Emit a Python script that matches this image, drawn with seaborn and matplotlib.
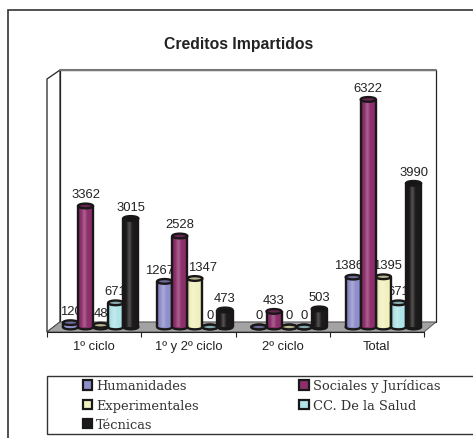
"""
Creditos Impartidos: cylinder style column chart.
"""

import matplotlib

matplotlib.use("Agg")

import matplotlib.pyplot as plt
import numpy as np
import pandas as pd
import seaborn as sns
from matplotlib.colors import LinearSegmentedColormap, to_rgb
from matplotlib.patches import Ellipse, Patch, Polygon, Rectangle


CATEGORIES = ["1º ciclo", "1º y 2º ciclo", "2º ciclo", "Total"]
SERIES = ["Humanidades", "Sociales y Jurídicas", "Experimentales", "CC. De la Salud", "Técnicas"]

HUMANIDADES = [120, 1267, 0, 1386]
SOCIALES = [3362, 2528, 433, 6322]
EXPERIMENTALES = [48, 1347, 0, 1395]
SALUD = [671, 0, 0, 671]
TECNICAS = [3015, 473, 503, 3990]

COLORS = ["#8f8fcb", "#8e2f6c", "#f1f1bf", "#b0e4e8", "#1d1a1b"]
# magenta and black columns overlap their neighbours
STACK = [0, 2, 1, 1, 2]
# sideways shift in points of the labels that were moved off their column: (series, category)
LABEL_NUDGE = {(0, 1): -3.5, (2, 1): 5.5, (0, 3): -3.5, (2, 3): 3}
EDGE = "#1a1718"
W, H = 473, 439


def shade(color):
    """Left to right shading that makes a flat bar look round."""
    base = np.array(to_rgb(color))
    dark = base * 0.85
    light = base + (1 - base) * 0.25
    return LinearSegmentedColormap.from_list("cyl", [dark, base, light, base, base, dark])


def px_axes(fig, x0, y0, x1, y1):
    """Axes placed from pixel coordinates, y measured from the top."""
    return fig.add_axes([x0 / W, 1 - y1 / H, (x1 - x0) / W, (y1 - y0) / H])


def draw_background(fig):
    bg = px_axes(fig, 0, 0, W, H)
    bg.set_xlim(0, W)
    bg.set_ylim(H, 0)
    bg.axis("off")
    # outer frame runs off the right and bottom of the picture
    bg.add_patch(Rectangle((8, 10.5), W, H, fc="white", ec="#333333", lw=1.2))
    # walls and floor
    bg.add_patch(Rectangle((60, 71), 376, 252, fc="white", ec="#222222", lw=0.9))
    bg.plot([60, 436], [71, 71], color="#777777", lw=1.5)
    bg.add_patch(Polygon([(47, 80), (60, 71), (60, 323), (47, 333)], fc="white", ec="#222222", lw=0.9))
    bg.add_patch(Polygon([(47, 333), (60, 323), (436, 323), (424, 333)], fc="#a3a3a3", ec="#555555", lw=0.7))
    # legend box
    bg.add_patch(Rectangle((47, 377), W, 58, fc="white", ec="#333333", lw=1.0))
    return bg


def draw_cylinders(ax):
    """Turn the seaborn bars into shaded cylinders."""
    ellipse_h = 130
    lw = 1.7
    for s, (color, rank, container) in enumerate(zip(COLORS, STACK, ax.containers)):
        z = 3 + rank
        for c, bar in enumerate(container):
            x, w, h = bar.get_x(), bar.get_width(), bar.get_height()
            bar.set_facecolor("none")
            bar.set_edgecolor("none")
            ax.add_patch(Ellipse((x + w / 2, 0), w, ellipse_h, fc=color, ec=EDGE, lw=lw, zorder=z, clip_on=False))
            if h > 0:
                grad = np.linspace(0, 1, 64)[None, :]
                ax.imshow(grad, cmap=shade(color), extent=(x, x + w, 0, h), aspect="auto", zorder=z + 0.1)
                ax.vlines([x, x + w], 0, h, color=EDGE, lw=lw, zorder=z + 0.2)
            top = np.array(to_rgb(color)) * 0.75
            ax.add_patch(Ellipse((x + w / 2, h), w, ellipse_h, fc=top, ec=EDGE, lw=lw, zorder=z + 0.3, clip_on=False))
            # labels sit behind every bar, as in the original
            ax.annotate(f"{int(h)}", (x + w / 2, h), xytext=(LABEL_NUDGE.get((s, c), 0), 8.5),
                        textcoords="offset points", ha="center", va="center", fontsize=9.4,
                        color="#222222", zorder=2, annotation_clip=False)


def main():
    sns.set_theme(style="white")
    plt.rcParams["font.family"] = ["Liberation Sans", "DejaVu Sans"]

    df = pd.DataFrame({
        "categoria": CATEGORIES * 5,
        "serie": np.repeat(SERIES, 4),
        "creditos": HUMANIDADES + SOCIALES + EXPERIMENTALES + SALUD + TECNICAS,
    })

    fig = plt.figure(figsize=(W / 100, H / 100), dpi=100, facecolor="white")
    draw_background(fig)

    ax = px_axes(fig, 53.5, 76, 430.5, 328)
    ax.patch.set_alpha(0)
    sns.barplot(data=df, x="categoria", y="creditos", hue="serie", hue_order=SERIES, order=CATEGORIES,
                palette=COLORS, saturation=1, width=0.8, gap=0, legend=False, ax=ax)
    draw_cylinders(ax)
    ax.set_xlim(-0.5, 3.5)
    ax.set_ylim(0, 7000)
    ax.axis("off")

    # category axis on the front edge of the floor
    front = px_axes(fig, 47, 300, 424, 333)
    front.patch.set_alpha(0)
    front.set_xlim(0, len(CATEGORIES))
    front.set_xticks(np.arange(len(CATEGORIES) + 1))
    front.set_xticklabels([])
    front.set_xticks(np.arange(len(CATEGORIES)) + 0.5, CATEGORIES, minor=True)
    front.tick_params(axis="x", which="major", length=3.5, width=0.8, color="#222222", bottom=True)
    front.tick_params(axis="x", which="minor", length=0, pad=6, labelsize=9.4, labelcolor="#222222")
    front.set_yticks([])
    for side in ["left", "right", "top"]:
        front.spines[side].set_visible(False)
    front.spines["bottom"].set_color("#222222")
    front.spines["bottom"].set_linewidth(0.8)

    fig.text(239 / W, 1 - 44 / H, "Creditos Impartidos", ha="center", va="center",
             fontsize=11.3, fontweight="bold", color="#222222")

    # legend fills columns first, so the 3+2 layout reads row by row like the original
    order = [0, 2, 4, 1, 3]
    handles = [Patch(fc=COLORS[i], ec=EDGE, lw=1.6, label=SERIES[i]) for i in order]
    fig.legend(handles=handles, ncol=2, mode="expand", frameon=False,
               bbox_to_anchor=(83 / W, 1 - 434 / H, 357 / W, 54 / H), loc="upper left",
               borderpad=0, borderaxespad=0, handlelength=0.72, handleheight=0.72, handletextpad=0.3,
               labelspacing=0.48, prop={"family": "DejaVu Serif", "size": 9.4}, labelcolor="#333333")

    fig.savefig("out.png", dpi=100)


if __name__ == "__main__":
    main()
